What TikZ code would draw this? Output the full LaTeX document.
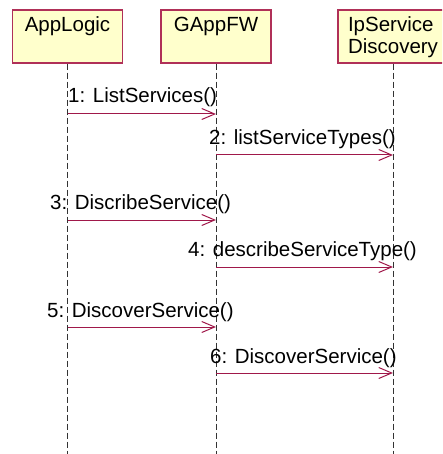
\documentclass[tikz,border=0pt]{standalone}
\usepackage{fontspec}
\setmainfont{Liberation Sans}
\usetikzlibrary{arrows.meta}
\definecolor{boxfill}{HTML}{FFFFCC}
\definecolor{boxline}{HTML}{B03058}
\definecolor{msgline}{HTML}{A0184A}
\tikzset{
  actor/.style={draw=boxline, fill=boxfill, line width=1.1pt, minimum width=110pt, minimum height=53pt, inner sep=0pt},
  title/.style={font=\fontsize{20.5}{21.6}\selectfont, inner sep=0pt, anchor=base, align=center},
  lifeline/.style={draw=black!80, line width=0.9pt, dash pattern=on 6pt off 3pt},
  msg/.style={draw=msgline, line width=1pt, -{Straight Barb[length=13pt,width=11pt]}},
  msglabel/.style={font=\fontsize{20.5}{24}\selectfont, inner sep=0pt, anchor=base west}
}
\begin{document}
\begin{tikzpicture}[x=1pt, y=-1pt]
  \useasboundingbox (0,0) rectangle (442,454);
  \begin{scope}
    \clip (0,0) rectangle (442,454);
    % participants
    \node[actor] (applogic) at (67.5,36.5) {};
    \node[actor] (gappfw) at (216,36.5) {};
    \node[actor] (ipsd) at (393,36.5) {};
    \node[title] (t1) at (67.5,31.7) {AppLogic};
    \node[title] (t2) at (216,31.7) {GAppFW};
    % base of a two-line node is the baseline of its last line
    \node[title, align=left] (t3) at (393,53.4) {IpService\\Discovery};
  \end{scope}
  % lifeline ends
  \coordinate (aend) at (67.5,454);
  \coordinate (gend) at (216,454);
  \coordinate (iend) at (393,454);
  \draw[lifeline] (applogic.south) -- (aend);
  \draw[lifeline] (gappfw.south) -- (gend);
  \draw[lifeline] (ipsd.south) -- (iend);
  % message anchor points on the lifelines
  \coordinate (a1) at (67.5,114);  \coordinate (g1) at (216,114);
  \coordinate (g2) at (216,155);   \coordinate (i2) at (393,155);
  \coordinate (a3) at (67.5,220);  \coordinate (g3) at (216,220);
  \coordinate (g4) at (216,267);   \coordinate (i4) at (393,267);
  \coordinate (a5) at (67.5,327);  \coordinate (g5) at (216,327);
  \coordinate (g6) at (216,373);   \coordinate (i6) at (393,373);
  % messages
  \draw[msg] (a1) -- (g1);
  \draw[msg] (g2) -- (i2);
  \draw[msg] (a3) -- (g3);
  \draw[msg] (g4) -- (i4);
  \draw[msg] (a5) -- (g5);
  \draw[msg] (g6) -- (i6);
  \node[msglabel] (l1) at (68,103) {1: ListServices()};
  \node[msglabel] (l2) at (209,145) {2: listServiceTypes()};
  \node[msglabel] (l3) at (50,209.5) {3: DiscribeService()};
  \node[msglabel] (l4) at (188,256.5) {4: describeServiceType()};
  \node[msglabel] (l5) at (47,317) {5: DiscoverService()};
  \node[msglabel] (l6) at (210,363) {6: DiscoverService()};
\end{tikzpicture}
\end{document}
